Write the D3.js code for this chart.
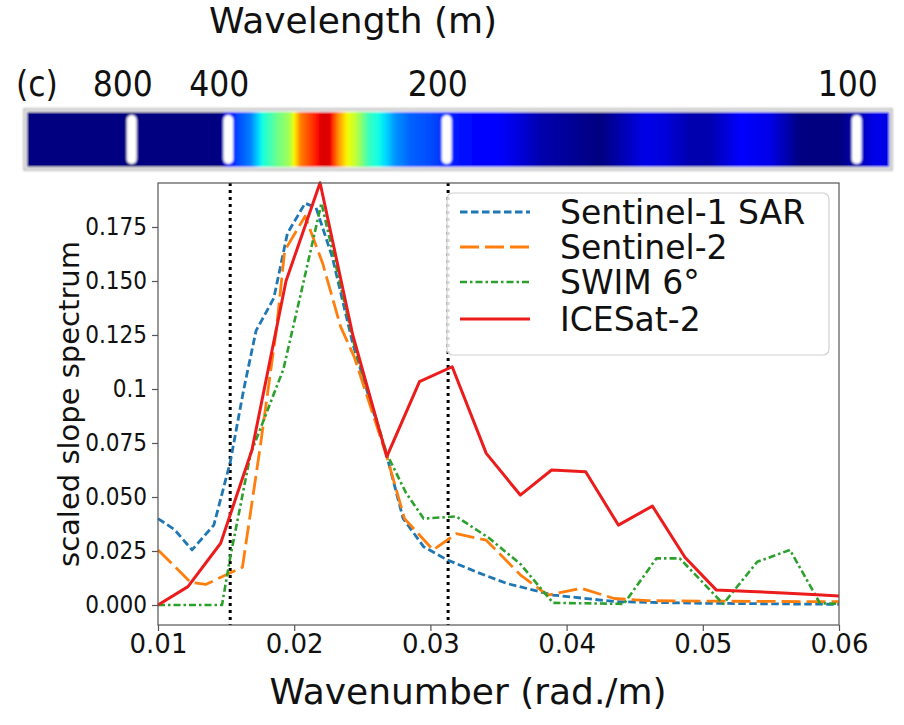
<!DOCTYPE html>
<html>
<head>
<meta charset="utf-8">
<script src="https://cdn.jsdelivr.net/npm/d3@7"></script>
<style>
  body { margin: 0; background: #fff; }
  text { font-family: "DejaVu Sans", sans-serif; fill: #111; }
</style>
</head>
<body>
<div id="chart"></div>
<script>
// wavenumber (rad/m) and scaled slope spectrum for each sensor
var kS1  = [0.0100, 0.0112, 0.0125, 0.0141, 0.0153, 0.0163, 0.0172, 0.0185, 0.0195, 0.0208, 0.0216, 0.0228, 0.0243, 0.0268, 0.0280, 0.0295, 0.0312, 0.0335, 0.0356, 0.0390, 0.0437, 0.0500, 0.0600];
var vS1  = [0.040, 0.035, 0.0255, 0.037, 0.066, 0.100, 0.127, 0.142, 0.172, 0.186, 0.184, 0.161, 0.121, 0.069, 0.040, 0.027, 0.021, 0.015, 0.010, 0.0046, 0.0015, 0.0008, 0.0003];

var kS2  = [0.0100, 0.0124, 0.0135, 0.0162, 0.0175, 0.0187, 0.0193, 0.0208, 0.0221, 0.0234, 0.0244, 0.0268, 0.0281, 0.0302, 0.0319, 0.0341, 0.0366, 0.0386, 0.0411, 0.0435, 0.0460, 0.0500, 0.0600];
var vS2  = [0.0255, 0.0105, 0.0095, 0.0175, 0.073, 0.128, 0.164, 0.180, 0.158, 0.129, 0.115, 0.0687, 0.040, 0.0255, 0.033, 0.030, 0.014, 0.0046, 0.0077, 0.003, 0.002, 0.0018, 0.0015];

var kSW  = [0.0100, 0.0147, 0.0153, 0.0168, 0.0192, 0.0207, 0.0220, 0.0245, 0.0268, 0.0282, 0.0295, 0.0319, 0.0343, 0.0366, 0.0390, 0.0442, 0.0466, 0.0483, 0.0515, 0.0540, 0.0564, 0.0586, 0.0600];
var vSW  = [0, 0, 0.022, 0.070, 0.109, 0.150, 0.186, 0.118, 0.070, 0.052, 0.040, 0.041, 0.031, 0.019, 0.001, 0.0005, 0.0216, 0.0216, 0.0005, 0.020, 0.0255, 0.0008, 0.0005];

var kIS  = [0.0100, 0.0122, 0.0146, 0.0169, 0.0194, 0.0219, 0.0243, 0.0268, 0.0292, 0.0316, 0.0341, 0.0366, 0.0389, 0.0414, 0.0438, 0.0463, 0.0487, 0.0510, 0.0535, 0.0559, 0.0584, 0.0600];
var vIS  = [0, 0.0085, 0.0286, 0.0718, 0.150, 0.1955, 0.125, 0.0687, 0.1034, 0.1103, 0.0702, 0.0509, 0.0625, 0.0617, 0.037, 0.0458, 0.022, 0.0069, 0.0063, 0.0056, 0.0048, 0.0042];

var seriesNames = ["Sentinel-1 SAR", "Sentinel-2", "SWIM 6°", "ICESat-2"];

// colour strip: wavenumber and normalised spectral level (jet colour map)
var barK   = [0.0000, 0.0150, 0.0163, 0.0173, 0.0181, 0.0191, 0.0201, 0.0209, 0.0216, 0.0224, 0.0230, 0.0236, 0.0243, 0.0249, 0.0258, 0.0270, 0.0277, 0.0288, 0.0302, 0.0324, 0.0347, 0.0365, 0.0386, 0.0409, 0.0432, 0.0447, 0.0466, 0.0481, 0.0501, 0.0516, 0.0539, 0.0562, 0.0585, 0.0615, 0.0642, 0.0660];
var barVal = [0.0, 0.0, 0.19, 0.25, 0.37, 0.47, 0.55, 0.775, 0.84, 0.92, 0.92, 0.76, 0.64, 0.58, 0.42, 0.34, 0.27, 0.22, 0.20, 0.14, 0.12, 0.09, 0.04, 0.02, 0.0, 0.04, 0.09, 0.08, 0.04, 0.04, 0.11, 0.09, 0.0, 0.0, 0.09, 0.09];

var wavelengthTicks = [800, 400, 200, 100];
var markerK = [0.0153, 0.0313];   // dotted reference lines

var xTicks = [0.01, 0.02, 0.03, 0.04, 0.05, 0.06];
var xTickLabels = ["0.01", "0.02", "0.03", "0.04", "0.05", "0.06"];
var yTicks = [0, 0.025, 0.05, 0.075, 0.1, 0.125, 0.15, 0.175];
var yTickLabels = ["0.000", "0.025", "0.050", "0.075", "0.1", "0.125", "0.150", "0.175"];

var W = 904, H = 725;
var svg = d3.select("#chart").append("svg")
  .attr("width", W)
  .attr("height", H)
  .style("background", "#fff");

var pL = 158, pR = 839, pT = 183, pB = 625;

var x = d3.scaleLinear().domain([0.01, 0.06]).range([pL, pR]);
var y = d3.scaleLinear().domain([-0.00926, 0.19537]).range([pB, pT]);

// ---- top strip ----
var jet = function(v) {
  var r = d3.scaleLinear().domain([0, 0.35, 0.66, 0.89, 1]).range([0, 0, 1, 1, 0.5]).clamp(true)(v);
  var g = d3.scaleLinear().domain([0, 0.125, 0.375, 0.64, 0.91, 1]).range([0, 0, 1, 1, 0, 0]).clamp(true)(v);
  var b = d3.scaleLinear().domain([0, 0.11, 0.34, 0.65, 1]).range([0.5, 1, 1, 0, 0]).clamp(true)(v);
  return d3.rgb(r * 255, g * 255, b * 255);
};

// the strip is a pasted image with its own (slightly uneven) wavenumber axis
var xb = d3.scaleLinear()
  .domain(wavelengthTicks.map(function(d) { return 2 * Math.PI / d; }))
  .range([131.7, 228.3, 446.7, 856.7]);
var level = d3.scaleLinear().domain(barK).range(barVal).clamp(true);

var defs = svg.append("defs");
defs.append("filter").attr("id", "soft")
  .attr("x", "-5%").attr("y", "-20%").attr("width", "110%").attr("height", "140%")
  .append("feGaussianBlur").attr("stdDeviation", 1.3);

var bx0 = 27, bx1 = 889, by0 = 112, by1 = 167;
var strip = svg.append("g").attr("filter", "url(#soft)");
strip.append("rect")
  .attr("x", bx0 - 3).attr("y", by0 - 3)
  .attr("width", bx1 - bx0 + 6).attr("height", by1 - by0 + 6)
  .attr("fill", "#ececec").attr("stroke", "#8c8c8c").attr("stroke-width", 1);
strip.selectAll("rect.px")
  .data(d3.range(bx0, bx1))
  .enter().append("rect")
  .attr("class", "px")
  .attr("x", function(d) { return d; })
  .attr("y", by0)
  .attr("width", 1.2)
  .attr("height", by1 - by0)
  .attr("fill", function(d) { return jet(level(Math.max(0, xb.invert(d + 0.5)))); });
strip.selectAll("rect.stripe")
  .data(wavelengthTicks)
  .enter().append("rect")
  .attr("class", "stripe")
  .attr("x", function(d) { return xb(2 * Math.PI / d) - 5; })
  .attr("y", by0 + 3)
  .attr("width", 10)
  .attr("height", by1 - by0 - 6)
  .attr("rx", 5)
  .attr("fill", "#fff");

svg.append("text")
  .attr("x", 353).attr("y", 33)
  .attr("text-anchor", "middle")
  .style("font-size", "36px")
  .text("Wavelength (m)");

svg.append("text")
  .attr("x", 16).attr("y", 96)
  .style("font-size", "35px")
  .style("font-family", "'DejaVu Sans Condensed', 'DejaVu Sans', sans-serif")
  .text("(c)");

svg.selectAll("text.wl")
  .data(wavelengthTicks)
  .enter().append("text")
  .attr("class", "wl")
  .attr("x", function(d) { return xb(2 * Math.PI / d) - 9; })
  .attr("y", 96)
  .attr("text-anchor", "middle")
  .style("font-size", "35px")
  .style("font-family", "'DejaVu Sans Condensed', 'DejaVu Sans', sans-serif")
  .text(function(d) { return d; });

// ---- main plot ----
var xAxis = d3.axisBottom(x).tickValues(xTicks).tickSize(6).tickPadding(4)
  .tickFormat(function(d, i) { return xTickLabels[i]; });
var yAxis = d3.axisLeft(y).tickValues(yTicks).tickSize(6).tickPadding(5)
  .tickFormat(function(d, i) { return yTickLabels[i]; });

var gx = svg.append("g").attr("transform", "translate(0," + pB + ")").call(xAxis);
gx.select(".domain").remove();
gx.selectAll("line").attr("stroke", "#555").attr("stroke-width", 1.2);
gx.selectAll("text").style("font-size", "26px").attr("fill", "#111");

var gy = svg.append("g").attr("transform", "translate(" + pL + ",0)").call(yAxis);
gy.select(".domain").remove();
gy.selectAll("line").attr("stroke", "#555").attr("stroke-width", 1.2);
gy.selectAll("text")
  .style("font-size", "24px")
  .style("font-family", "'DejaVu Sans Condensed', 'DejaVu Sans', sans-serif")
  .attr("fill", "#111");

svg.selectAll("line.marker")
  .data(markerK)
  .enter().append("line")
  .attr("class", "marker")
  .attr("x1", function(d) { return x(d); })
  .attr("x2", function(d) { return x(d); })
  .attr("y1", pT)
  .attr("y2", pB)
  .attr("stroke", "#000")
  .attr("stroke-width", 3)
  .attr("stroke-dasharray", "3,4");

var series = [
  { k: kS1, v: vS1, color: "#1f77b4", width: 2.8, dash: "7.5,3.5" },
  { k: kS2, v: vS2, color: "#ff7f0e", width: 2.8, dash: "19,6" },
  { k: kSW, v: vSW, color: "#2ca02c", width: 2.6, dash: "7,3,2.5,3" },
  { k: kIS, v: vIS, color: "#ec1c1c", width: 3, dash: null }
];

var line = d3.line()
  .x(function(d) { return x(d[0]); })
  .y(function(d) { return y(d[1]); });

series.forEach(function(s) {
  svg.append("path")
    .datum(d3.zip(s.k, s.v))
    .attr("d", line)
    .attr("fill", "none")
    .attr("stroke", s.color)
    .attr("stroke-width", s.width)
    .attr("stroke-dasharray", s.dash)
    .attr("stroke-linejoin", "round");
});

svg.append("rect")
  .attr("x", pL).attr("y", pT)
  .attr("width", pR - pL).attr("height", pB - pT)
  .attr("fill", "none").attr("stroke", "#555").attr("stroke-width", 1.2);

// legend
var lg = svg.append("g");
lg.append("rect")
  .attr("x", 447).attr("y", 193).attr("width", 382).attr("height", 162)
  .attr("rx", 6)
  .attr("fill", "#fff").attr("fill-opacity", 0.85)
  .attr("stroke", "#d0d0d0").attr("stroke-width", 1.2);
var lgY = [212, 247, 282, 319];
series.forEach(function(s, i) {
  lg.append("line")
    .attr("x1", 460).attr("x2", 530)
    .attr("y1", lgY[i]).attr("y2", lgY[i])
    .attr("stroke", s.color)
    .attr("stroke-width", s.width)
    .attr("stroke-dasharray", s.dash);
  lg.append("text")
    .attr("x", 560).attr("y", lgY[i] + 12)
    .style("font-size", "33px")
    .text(seriesNames[i]);
});

svg.append("text")
  .attr("x", 468).attr("y", 704)
  .attr("text-anchor", "middle")
  .style("font-size", "36px")
  .text("Wavenumber (rad./m)");

svg.append("text")
  .attr("transform", "translate(79,404) rotate(-90)")
  .attr("text-anchor", "middle")
  .style("font-size", "29px")
  .text("scaled slope spectrum");
</script>
</body>
</html>
